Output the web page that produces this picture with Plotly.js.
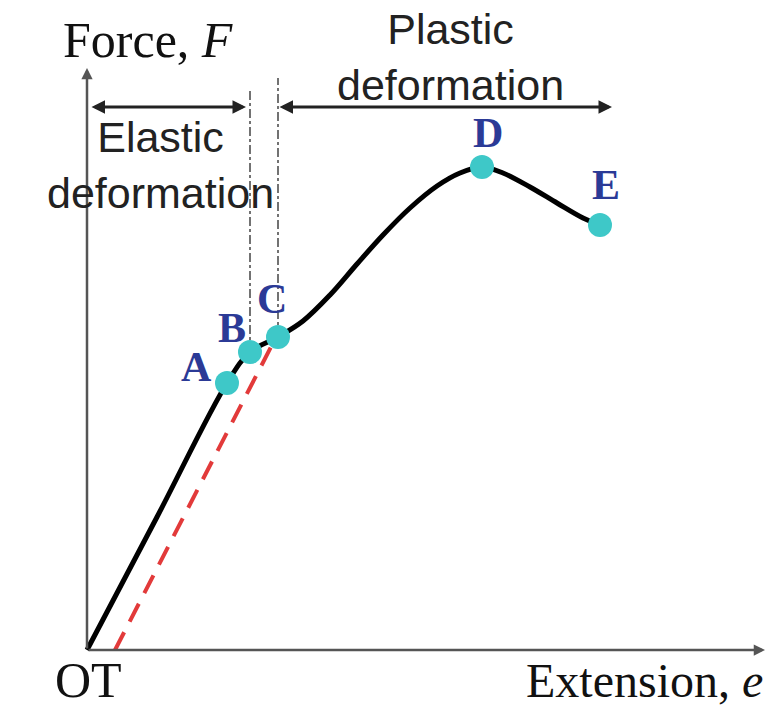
<!DOCTYPE html>
<html>
<head>
<meta charset="utf-8">
<script src="https://cdn.plot.ly/plotly-3.0.1.min.js"></script>
<style>
  html, body { margin: 0; padding: 0; background: #fff; }
  #chart { width: 768px; height: 708px; }
</style>
</head>
<body>
<div id="chart"></div>
<script>
// force-extension curve, in arbitrary units (origin at O)
const curveE = [0, 0.70, 1.40, 1.63, 1.91, 2.16, 2.43, 2.70, 2.96, 3.23, 3.50, 3.73, 3.95, 4.16, 4.43, 4.70, 4.96, 5.13];
const curveF = [0, 1.33, 2.67, 2.98, 3.13, 3.29, 3.55, 3.86, 4.15, 4.42, 4.64, 4.77, 4.83, 4.77, 4.63, 4.47, 4.32, 4.25];

const pointLabels = ['A', 'B', 'C', 'D', 'E'];
const pointE = [1.40, 1.63, 1.91, 3.95, 5.13];
const pointF = [2.67, 2.98, 3.13, 4.83, 4.25];

// offset (permanent set) line from T
const offsetE = [0.28, 1.85];
const offsetF = [0, 3.05];

const dividerTop = [5.62, 5.72];
const elasticSpan = [0.03, 1.59];
const plasticSpan = [1.91, 5.25];
const spanLevel = 5.43;
const eMax = 6.78;
const fMax = 5.82;

const serif = 'Liberation Serif, Times New Roman, serif';
const sans = 'Liberation Sans, Arial, sans-serif';
const labelBlue = '#2b3a96';

const traces = [
  {
    type: 'scatter', mode: 'lines', x: [pointE[1], pointE[1]], y: [pointF[1], dividerTop[0]],
    line: { color: '#444', width: 1.5, dash: 'dashdot' }
  },
  {
    type: 'scatter', mode: 'lines', x: [pointE[2], pointE[2]], y: [pointF[2], dividerTop[1]],
    line: { color: '#444', width: 1.5, dash: 'dashdot' }
  },
  {
    type: 'scatter', mode: 'lines', x: offsetE, y: offsetF,
    line: { color: '#e23a3a', width: 4, dash: '20px,12px' }
  },
  {
    type: 'scatter', mode: 'lines', x: curveE, y: curveF,
    line: { color: '#000', width: 5, shape: 'spline', smoothing: 1 }
  },
  {
    type: 'scatter', mode: 'markers', x: pointE, y: pointF,
    marker: { color: '#3ec8c8', size: 24 }
  }
];

const arrow = (x0, y0, x1, y1, w, both, color) => ({
  x: x1, y: y1, ax: x0, ay: y0, xref: 'x', yref: 'y', axref: 'x', ayref: 'y',
  text: '', showarrow: true, arrowhead: 2, arrowsize: 0.9, arrowwidth: w,
  arrowcolor: color, arrowside: both ? 'end+start' : 'end', standoff: 0, startstandoff: 0
});

const labelShift = [[-31, 16], [-18, 24], [-6, 38], [6, 34], [6, 40]];

const annotations = [
  arrow(0, 0, 0, fMax, 2.5, false, '#555'),
  arrow(0, 0, eMax, 0, 2.5, false, '#555'),
  arrow(elasticSpan[0], spanLevel, elasticSpan[1], spanLevel, 3, true, '#222'),
  arrow(plasticSpan[0], spanLevel, plasticSpan[1], spanLevel, 3, true, '#222'),
  { x: 0.61, y: 6.10, xref: 'x', yref: 'y', showarrow: false, text: 'Force, <i>F</i>',
    font: { family: serif, size: 50, color: '#111' } },
  { x: 6.78, y: -0.30, xref: 'x', yref: 'y', xanchor: 'right', showarrow: false, text: 'Extension, <i>e</i>',
    font: { family: serif, size: 48, color: '#111' } },
  { x: 0.01, y: -0.30, xref: 'x', yref: 'y', showarrow: false, text: 'OT',
    font: { family: serif, size: 50, color: '#111' } },
  { x: 0.73, y: 4.85, xref: 'x', yref: 'y', showarrow: false, text: 'Elastic<br>deformation',
    font: { family: sans, size: 43, color: '#222' } },
  { x: 3.63, y: 5.93, xref: 'x', yref: 'y', showarrow: false, text: 'Plastic<br>deformation',
    font: { family: sans, size: 43, color: '#222' } }
];

pointLabels.forEach((lbl, i) => {
  annotations.push({
    x: pointE[i], y: pointF[i], xref: 'x', yref: 'y', showarrow: false, text: '<b>' + lbl + '</b>',
    xshift: labelShift[i][0], yshift: labelShift[i][1],
    font: { family: serif, size: 42, color: labelBlue }
  });
});

Plotly.newPlot('chart', traces, {
  width: 768,
  height: 708,
  margin: { l: 0, r: 0, t: 0, b: 0 },
  paper_bgcolor: '#fff',
  plot_bgcolor: '#fff',
  showlegend: false,
  xaxis: { range: [-0.87, 6.81], visible: false, fixedrange: true },
  yaxis: { range: [-0.58, 6.50], visible: false, fixedrange: true },
  annotations
}, { displayModeBar: false, staticPlot: true });
</script>
</body>
</html>
